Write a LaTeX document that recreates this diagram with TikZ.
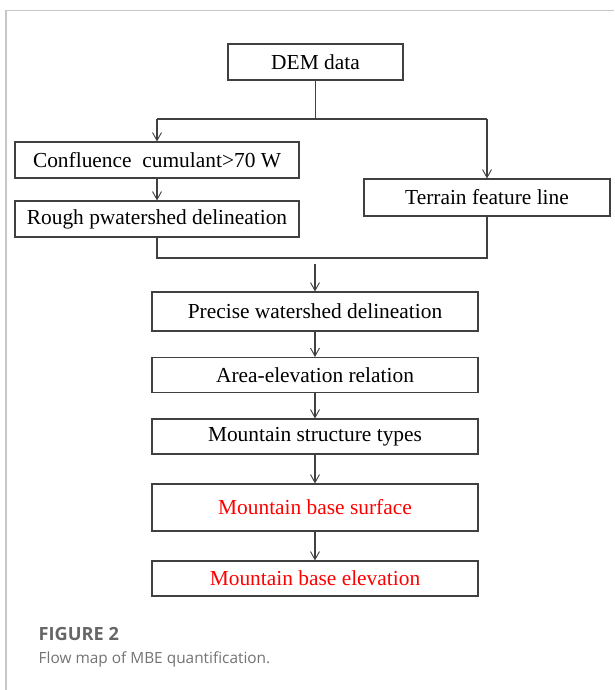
\documentclass[tikz,border=0pt]{standalone}
\usepackage{fontspec}
\setmainfont{Liberation Serif}
\newfontfamily\capfont{Open Sans}
\usetikzlibrary{arrows.meta}
\begin{document}
\begin{tikzpicture}[x=1pt,y=-1pt,
  box/.style={draw=black!75,line width=1.1pt,rectangle,inner sep=0pt,font=\fontsize{21.4}{24}\selectfont,text=black},
  redbox/.style={box,text=red},
  link/.style={draw=black!75,line width=1.1pt},
  arr/.style={link,-{Straight Barb[length=8pt,width=9pt,line width=0.9pt]}},
  frame/.style={draw=black!22,line width=1.2pt}]
\useasboundingbox (0,0) rectangle (614,690);
\draw[frame] (6,690) -- (6,10.5) -- (614,10.5);
\node[box,minimum width=175,minimum height=36] (dem) at (315.5,62) {DEM data};
\node[box,minimum width=284,minimum height=36] (conf) at (157,160) {Confluence\ \ cumulant>70 W};
\node[box,minimum width=284,minimum height=36] (rough) at (157,219) {Rough pwatershed delineation};
\node[box,minimum width=246,minimum height=37] (terr) at (487,197.5) {Terrain feature line};
\node[box,minimum width=326,minimum height=39] (prec) at (315,311.5) {Precise watershed delineation};
\node[box,minimum width=326,minimum height=35] (area) at (315,375) {Area-elevation relation};
\node[box,minimum width=326,minimum height=35] (stru) at (315,436.5) {Mountain structure types};
\node[redbox,minimum width=326,minimum height=47] (surf) at (315,507.5) {Mountain base surface};
\node[redbox,minimum width=326,minimum height=35] (elev) at (315,578.5) {Mountain base elevation};
\coordinate (bl) at (157,119);
\coordinate (br) at (487,119);
\coordinate (jl) at (157,258);
\coordinate (jr) at (487,258);
\coordinate (js) at (315,264);
\draw[link] (dem.south) -- (dem.south |- bl);
\draw[link] (bl) -- (br);
\draw[arr] (bl) -- (conf.north);
\draw[arr] (br) -- (terr.north);
\draw[arr] (conf.south) -- (rough.north);
\draw[link] (rough.south) -- (jl) -- (jr) -- (terr.south);
\draw[arr] (js) -- (prec.north);
\draw[arr] (prec) -- (area);
\draw[arr] (area) -- (stru);
\draw[arr] (stru) -- (surf);
\draw[arr] (surf) -- (elev);
\node[anchor=base west,inner sep=0pt,font=\capfont\fontsize{18.2}{20}\selectfont\bfseries,text=black!60] (fig) at (38.5,640) {FIGURE 2};
\node[anchor=base west,inner sep=0pt,font=\capfont\fontsize{15.4}{20}\selectfont,text=black!55] (cap) at (38.5,663) {Flow map of MBE quantification.};
\end{tikzpicture}
\end{document}
